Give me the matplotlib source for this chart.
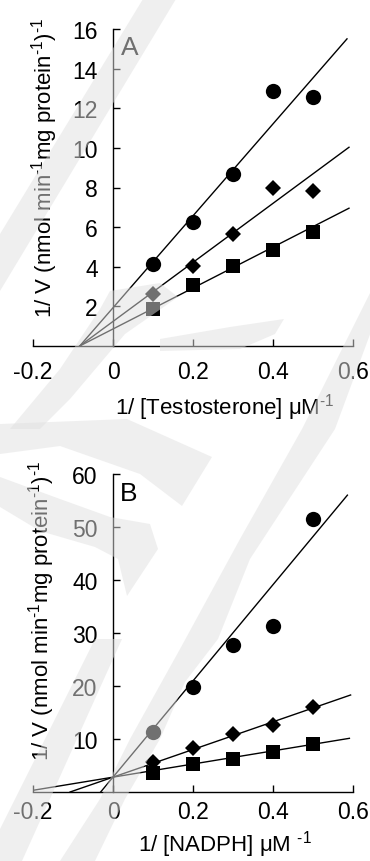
import matplotlib
matplotlib.use("Agg")
import matplotlib.pyplot as plt
from matplotlib.patches import Polygon

plt.rcParams['font.family'] = ['Liberation Sans', 'DejaVu Sans']
plt.rcParams['mathtext.fontset'] = 'custom'
plt.rcParams['mathtext.rm'] = 'Liberation Sans'
plt.rcParams['mathtext.it'] = 'Liberation Sans'

########################## data ##########################
conc = [0.1, 0.2, 0.3, 0.4, 0.5]

# panel A : 1/[Testosterone]
a_circle = [4.15, 6.25, 8.7, 12.85, 12.55]
a_diamond = [2.63, 4.06, 5.66, 8.0, 7.8]
a_square = [1.87, 3.08, 4.06, 4.86, 5.74]
a_slope = [23.2, 14.9, 10.33]
a_icept = [1.93, 1.24, 0.86]
a_xend = [0.585, 0.59, 0.59]

# panel B : 1/[NADPH]
b_circle = [11.3, 19.8, 27.8, 31.25, 51.5]
b_diamond = [5.6, 8.26, 10.96, 12.7, 16.0]
b_square = [3.5, 5.3, 6.2, 7.6, 9.1]
b_slope = [90.8, 26.1, 12.4]
b_icept = [2.8, 2.8, 2.8]
b_xend = [0.586, 0.594, 0.591]

x_ticks = [-0.2, 0, 0.2, 0.4, 0.6]
x_ticklabels = ['-0.2', '0', '0.2', '0.4', '0.6']
a_yticks = [2, 4, 6, 8, 10, 12, 14, 16]
b_yticks = [10, 20, 30, 40, 50, 60]

ylab = r'1/ V (nmol min$^{\text{-1}}$mg protein$^{\text{-1}}$)$^{\text{-1}}$'

W, H = 370, 862
fig = plt.figure(figsize=(W / 100, H / 100), dpi=100)


def panel(rect, series, slopes, icepts, xend, ymax, yticks, letter, xlab,
          xpad, xlab_y, ylab_xy, letter_xy):
    ax = fig.add_axes(rect)
    ax.set_xlim(-0.2, 0.6)
    ax.set_ylim(0, ymax)
    for s in ['top', 'right']:
        ax.spines[s].set_visible(False)
    ax.spines['left'].set_position(('data', 0))
    for s in ['left', 'bottom']:
        ax.spines[s].set_linewidth(1.0)
    ax.set_xticks(x_ticks)
    ax.set_xticklabels(x_ticklabels)
    ax.set_yticks(yticks)
    ax.tick_params(axis='x', direction='in', length=5, width=1.0,
                   labelsize=16.5, pad=xpad)
    ax.tick_params(axis='y', direction='in', length=5, width=1.0,
                   labelsize=16.5, pad=11)

    # fitted Lineweaver-Burk lines
    for m, b, x1 in zip(slopes, icepts, xend):
        x0 = max(-b / m, -0.2)
        ax.plot([x0, x1], [m * x0 + b, m * x1 + b], color='black', lw=1.0)

    markers = [('o', 11), ('D', 8), ('s', 10.5)]
    for vals, (mk, ms) in zip(series, markers):
        ax.plot(conc, vals, linestyle='none', marker=mk, markersize=ms,
                color='black', markeredgewidth=0, clip_on=False)

    ax.text(letter_xy[0], letter_xy[1], letter, transform=ax.transAxes,
            fontsize=19, ha='center', va='center')
    ax.text(0.6, xlab_y, xlab, transform=ax.transAxes, fontsize=16,
            ha='center', va='center')
    ax.text(ylab_xy[0], ylab_xy[1], ylab, transform=ax.transAxes,
            fontsize=16, rotation=90, ha='center', va='center')
    return ax


panel([33 / W, 1 - 347 / H, 320 / W, 317 / H],
      [a_circle, a_diamond, a_square], a_slope, a_icept, a_xend,
      16, a_yticks, 'A', r'1/ [Testosterone] $\mu$M$^{\text{-1}}$',
      10, -0.192, (0.035, 0.565), (0.303, 0.942))

panel([33 / W, 1 - 793 / H, 320 / W, 318 / H],
      [b_circle, b_diamond, b_square], b_slope, b_icept, b_xend,
      60, b_yticks, 'B', r'1/ [NADPH] $\mu$M $^{\text{-1}}$',
      6, -0.162, (0.028, 0.572), (0.298, 0.940))

# faint watermark strokes laid over the scan (pixel outlines)
marks = [
    [(143, 0), (176, 0), (0, 292), (0, 235)],
    [(110, 292), (160, 284), (178, 298), (125, 335), (70, 400), (40, 430),
     (10, 430), (60, 370), (100, 310)],
    [(160, 340), (230, 328), (284, 320), (275, 335), (240, 350),
     (160, 352)],
    [(0, 425), (127, 420), (212, 458), (182, 507), (140, 475), (60, 447),
     (0, 455)],
    [(0, 478), (60, 500), (110, 518), (150, 525), (158, 550), (127, 597),
     (118, 560), (95, 548), (40, 532), (0, 508)],
    [(372, 290), (372, 330), (335, 430), (250, 560), (218, 640), (185, 683),
     (160, 740), (125, 800), (95, 862), (60, 862), (100, 800), (130, 740),
     (180, 650), (240, 540), (302, 430)],
    [(95, 640), (122, 640), (22, 862), (0, 862), (0, 830)],
]
for pts in marks:
    fig.patches.append(Polygon([(x / W, 1 - y / H) for x, y in pts],
                               closed=True, transform=fig.transFigure,
                               facecolor='0.88', edgecolor='none',
                               alpha=0.5, zorder=10))

plt.savefig('out.png', dpi=100)
